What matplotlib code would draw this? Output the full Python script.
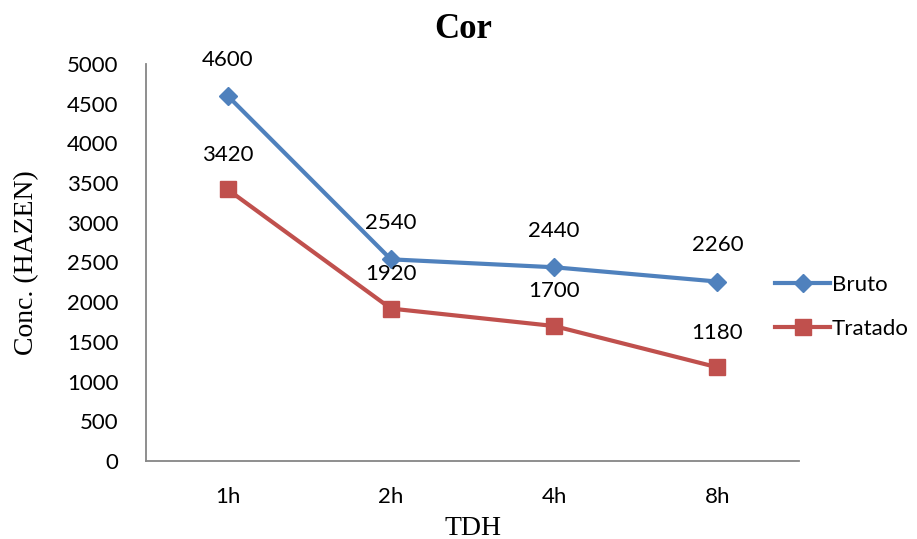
import matplotlib
matplotlib.use("Agg")
import matplotlib.pyplot as plt
from matplotlib.lines import Line2D

categories = ["1h", "2h", "4h", "8h"]
bruto = [4600, 2540, 2440, 2260]
tratado = [3420, 1920, 1700, 1180]
yticks = [0, 500, 1000, 1500, 2000, 2500, 3000, 3500, 4000, 4500, 5000]

blue = "#4F81BD"
red = "#C0504D"
sans = ["Lato", "DejaVu Sans"]
serif = ["Liberation Serif", "DejaVu Serif"]
fs = 16

fig = plt.figure(figsize=(9.17, 5.39), dpi=100)
ax = fig.add_axes([146/917, 1-461/539, (799-146)/917, (461-64)/539])

x = list(range(len(categories)))
ax.plot(x, bruto, color=blue, lw=3, marker="D", ms=9, mfc=blue, mec=blue, label="Bruto", zorder=3)
ax.plot(x, tratado, color=red, lw=3, marker="s", ms=12, mfc=red, mec=red, label="Tratado", zorder=3)

for xi, v in zip(x, bruto):
    ax.annotate(str(v), (xi, v), xytext=(0, 26), textcoords="offset points",
                ha="center", va="center", fontsize=fs, family=sans)
for xi, v in zip(x, tratado):
    ax.annotate(str(v), (xi, v), xytext=(0, 25), textcoords="offset points",
                ha="center", va="center", fontsize=fs, family=sans)

ax.set_xlim(-0.5, len(categories) - 0.5)
ax.set_ylim(0, 5000)
ax.set_yticks(yticks)
ax.set_xticks(x)
ax.set_xticklabels(categories)
for lab in ax.get_xticklabels() + ax.get_yticklabels():
    lab.set_family(sans)
    lab.set_fontsize(fs)
ax.tick_params(axis="both", length=0)
ax.tick_params(axis="y", pad=20)
ax.tick_params(axis="x", pad=19)

for s in ["top", "right"]:
    ax.spines[s].set_visible(False)
for s in ["left", "bottom"]:
    ax.spines[s].set_color("#868686")
    ax.spines[s].set_linewidth(1.3)

ax.set_ylabel("Conc. (HAZEN)", family=serif, fontsize=20, labelpad=20)
ax.set_xlabel("TDH", family=serif, fontsize=20, labelpad=6)
fig.text(463/917, 1-29/539, "Cor", family=serif, fontsize=25, fontweight="bold",
         ha="center", va="center")

handles = [
    Line2D([], [], color=blue, lw=3, marker="D", ms=9),
    Line2D([], [], color=red, lw=3, marker="s", ms=12),
]
fig.legend(handles, ["Bruto", "Tratado"], loc="center left",
           bbox_to_anchor=(766/917, 1-307/539), frameon=False,
           prop={"family": sans, "size": fs}, handlelength=2.5,
           handletextpad=0.05, labelspacing=1.1, borderaxespad=0)

fig.savefig("out.png", dpi=100)
